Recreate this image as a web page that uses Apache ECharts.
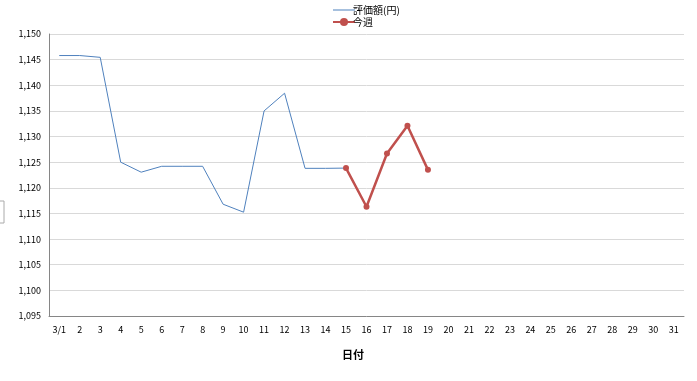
<!DOCTYPE html>
<html><head><meta charset="utf-8">
<script src="https://cdn.jsdelivr.net/npm/echarts@6/dist/echarts.min.js"></script>
<style>html,body{margin:0;padding:0;background:#fff}#c{width:697px;height:381px}</style>
</head><body><div id="c"></div>
<script>
const categories = ['3/1','2','3','4','5','6','7','8','9','10','11','12','13','14','15','16','17','18','19','20','21','22','23','24','25','26','27','28','29','30','31'];
const valueSeries = [1145.8,1145.8,1145.45,1125.0,1123.05,1124.2,1124.2,1124.2,1116.8,1115.25,1135.0,1138.45,1123.8,1123.8,1123.85,1116.3,1126.7,1132.1,1123.5];
const thisWeek = [null,null,null,null,null,null,null,null,null,null,null,null,null,null,1123.85,1116.3,1126.7,1132.1,1123.5];
const yTicks = {min:1095, max:1150, step:5};
const seriesNames = ['評価額(円)','今週'];
const axisName = '日付';

const chart = echarts.init(document.getElementById('c'));
const font = '"Noto Sans CJK JP", "DejaVu Sans", sans-serif';
chart.setOption({
  animation:false,
  textStyle:{fontFamily:font},
  legend:{
    orient:'vertical', left:327, top:0, itemGap:2, itemWidth:22, itemHeight:10,
    textStyle:{fontSize:10, color:'#000', fontFamily:font, padding:[0,0,0,-7]},
    data:[
      {name:seriesNames[0], icon:'path://M0,0H0.01V0.01H0Z M0,4.5H22V5.5H0Z M0,9.99H0.01V10H0Z'},
      {name:seriesNames[1]}
    ]
  },
  grid:{left:49, right:13, top:34, bottom:65},
  xAxis:{
    type:'category', data:categories, boundaryGap:true,
    axisLine:{lineStyle:{color:'#868686', width:1}},
    axisTick:{show:false},
    axisLabel:{fontSize:9, color:'#000', margin:9, interval:0}
  },
  yAxis:{
    type:'value', min:yTicks.min, max:yTicks.max, interval:yTicks.step,
    axisLine:{show:true, lineStyle:{color:'#868686', width:1}},
    axisTick:{show:false},
    splitLine:{lineStyle:{color:'#d9d9d9', width:1}},
    axisLabel:{fontSize:9, color:'#000', margin:8,
      formatter:v=>v.toLocaleString('en-US')}
  },
  graphic:[
    {type:'text', left:342, top:349, style:{text:axisName, font:'bold 11px '+font, fill:'#000'}},
    {type:'rect', shape:{x:-1, y:201, width:5, height:22}, style:{fill:'#fff', stroke:'#aaa', lineWidth:1}}
  ],
  series:[
    {name:seriesNames[0], type:'line', data:valueSeries, showSymbol:false, symbol:'none',
      lineStyle:{color:'#4f81bd', width:1}, itemStyle:{color:'#4f81bd'}},
    {name:seriesNames[1], type:'line', data:thisWeek, symbol:'circle', symbolSize:6,
      lineStyle:{color:'#c0504d', width:2.5}, itemStyle:{color:'#c0504d'}}
  ]
});
</script></body></html>
